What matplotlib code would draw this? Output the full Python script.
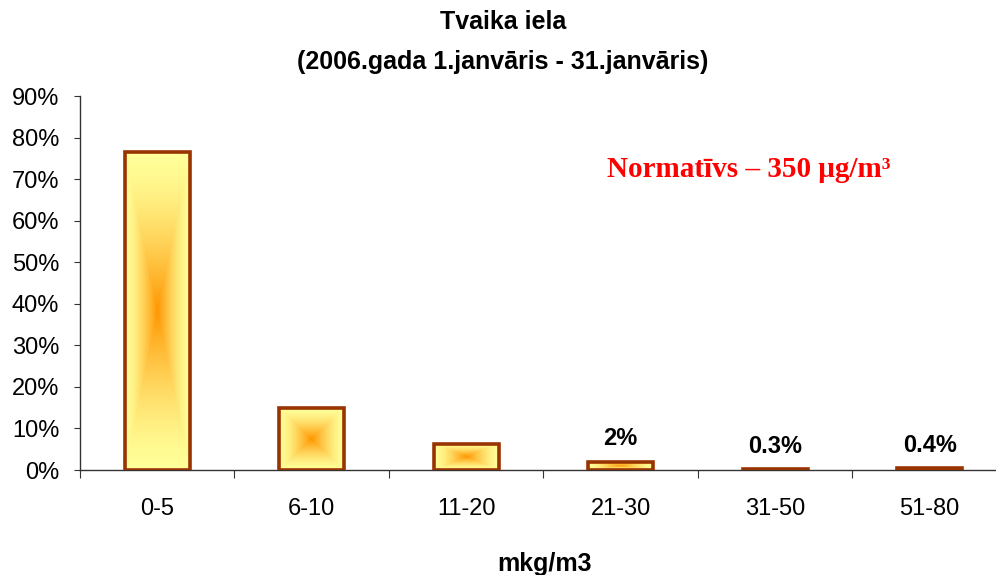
import numpy as np
import matplotlib
matplotlib.use('Agg')
from matplotlib import pyplot as plt
from matplotlib.ticker import FuncFormatter

categories = ['0-5', '6-10', '11-20', '21-30', '31-50', '51-80']
shares = [0.765, 0.149, 0.063, 0.02, 0.003, 0.004]
value_labels = ['', '', '', '2%', '0.3%', '0.4%']

plt.rcParams['font.family'] = ['Liberation Sans', 'DejaVu Sans']

fig = plt.figure(figsize=(9.96, 5.75), dpi=100)
ax = fig.add_axes([0.0803, 0.1826, 0.9307, 0.6504])

x = np.arange(len(categories))
bars = ax.bar(x, shares, width=0.42, facecolor='none', edgecolor='#993300',
              linewidth=2.6, zorder=3)

# box gradient: orange in the middle, pale yellow towards the edges
yellow = np.array([255, 255, 153]) / 255.0
orange = np.array([255, 150, 0]) / 255.0
n = 200
u = np.linspace(-1, 1, n)
uu, vv = np.meshgrid(u, u)
t = np.maximum(np.abs(uu), np.abs(vv))
w = (1 - t) ** 1.5
img = yellow[None, None, :] * (1 - w[..., None]) + orange[None, None, :] * w[..., None]

for b in bars:
    x0 = b.get_x()
    x1 = x0 + b.get_width()
    ax.imshow(img, extent=(x0, x1, 0, b.get_height()), aspect='auto',
              zorder=2, interpolation='bilinear')

for xi, val, lab in zip(x, shares, value_labels):
    if lab:
        ax.text(xi, val + 0.027, lab, ha='center', va='bottom',
                fontsize=17, fontweight='bold')

ax.set_xlim(-0.5, len(categories) - 0.5)
ax.set_ylim(0, 0.9)
ax.set_yticks(np.arange(0, 0.91, 0.1))
ax.yaxis.set_major_formatter(FuncFormatter(lambda v, p: '%d%%' % round(v * 100)))

ax.set_xticks(np.arange(-0.5, len(categories), 1.0))
ax.set_xticklabels([])
ax.set_xticks(x, minor=True)
ax.set_xticklabels(categories, minor=True)
ax.tick_params(axis='x', which='major', length=6, direction='out', color='#333333')
ax.tick_params(axis='x', which='minor', length=0, pad=20, labelsize=17)
ax.tick_params(axis='y', length=4, direction='out', color='#333333', labelsize=17, pad=11)

for s in ['top', 'right']:
    ax.spines[s].set_visible(False)
for s in ['left', 'bottom']:
    ax.spines[s].set_color('#333333')
    ax.spines[s].set_linewidth(1)

fig.text(0.505, 0.961, 'Tvaika iela', ha='center', va='center',
         fontsize=18, fontweight='bold')
fig.text(0.505, 0.893, '(2006.gada 1.janvāris - 31.janvāris)', ha='center',
         va='center', fontsize=18, fontweight='bold')
fig.text(0.547, 0.019, 'mkg/m3', ha='center', va='center',
         fontsize=18, fontweight='bold')

ax.text(0.721, 0.804, 'Normatīvs – 350 μg/m³', transform=ax.transAxes,
        ha='center', va='center', color='#ff0000', fontsize=21,
        fontweight='bold', family=['Liberation Serif', 'DejaVu Serif'])

fig.savefig('out.png', dpi=100)
